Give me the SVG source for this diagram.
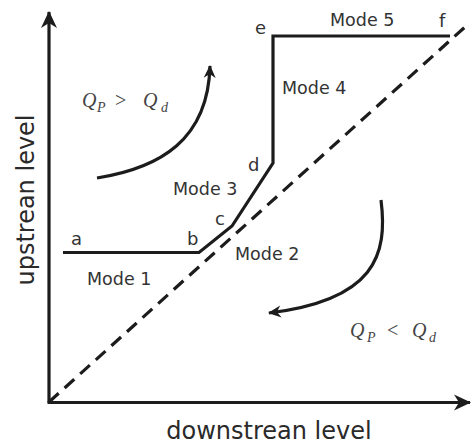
<svg xmlns="http://www.w3.org/2000/svg" width="473" height="444" viewBox="0 0 473 444">
<style>
.ln{fill:none;stroke:#1c1c1c;stroke-width:3.2;stroke-linejoin:miter}
.lbl{font-family:"DejaVu Sans",Verdana,sans-serif;font-size:17.5px;fill:#333}
.pt{font-family:"DejaVu Sans",Verdana,sans-serif;font-size:18px;fill:#333}
.ax{font-family:"DejaVu Sans",Verdana,sans-serif;font-size:24px;fill:#2a2a2a}
.q{font-family:"Liberation Serif","Times New Roman",serif;font-style:italic;fill:#444;font-size:20px}
.qs{font-size:14px}
.op{font-style:normal}
</style>
<defs>
<marker id="ah" viewBox="0 0 14 14" refX="12" refY="7" markerWidth="14" markerHeight="14" markerUnits="userSpaceOnUse" orient="auto">
<path d="M0,1 L13,7 L0,13 L4,7 z" fill="#1c1c1c"/>
</marker>
<marker id="axh" viewBox="0 0 18 18" refX="16" refY="9" markerWidth="18" markerHeight="18" markerUnits="userSpaceOnUse" orient="auto">
<path d="M0,1 L17,9 L0,17 L5,9 z" fill="#1c1c1c"/>
</marker>
</defs>
<rect width="473" height="444" fill="#fff"/>
<g id="axes">
<line class="ln" x1="49" y1="402.5" x2="49" y2="12" marker-end="url(#axh)" stroke-width="3.5"/>
<line class="ln" x1="47.5" y1="402.5" x2="470" y2="402.5" marker-end="url(#axh)" stroke-width="3.5"/>
<text class="ax" x="269" y="439" text-anchor="middle">downstrean level</text>
<text class="ax" transform="translate(34,200) rotate(-90)" text-anchor="middle">upstrean level</text>
</g>
<g id="connectors">
<line class="ln" x1="49" y1="402" x2="465" y2="27" stroke-dasharray="13 8"/>
<path id="mode-curve" class="ln" d="M63,252.5 L199,252.5 L232,226 L273,163 L273,36 L450,36"/>
<path class="ln" d="M97,178 C160,168 208,140 210,66" marker-end="url(#ah)" stroke-width="3"/>
<path class="ln" d="M381,200 C388,255 375,300 269,313" marker-end="url(#ah)" stroke-width="3"/>
</g>
<g id="points">
<text class="pt" x="71" y="245">a</text>
<text class="pt" x="187" y="245">b</text>
<text class="pt" x="215" y="225">c</text>
<text class="pt" x="248" y="171">d</text>
<text class="pt" x="255" y="34">e</text>
<text class="pt" x="439" y="27">f</text>
</g>
<g id="modes">
<text class="lbl" x="87" y="285">Mode 1</text>
<text class="lbl" x="235" y="260">Mode 2</text>
<text class="lbl" x="173" y="195">Mode 3</text>
<text class="lbl" x="282" y="94">Mode 4</text>
<text class="lbl" x="330" y="26">Mode 5</text>
</g>
<g id="cond-up">
<text class="q" x="82" y="107">Q</text>
<text class="q qs" x="97" y="112">P</text>
<text class="q op" x="115" y="107">&gt;</text>
<text class="q" x="143" y="107">Q</text>
<text class="q qs" x="161" y="112">d</text>
</g>
<g id="cond-down">
<text class="q" x="350" y="337">Q</text>
<text class="q qs" x="367" y="342">P</text>
<text class="q op" x="387" y="337">&lt;</text>
<text class="q" x="412" y="337">Q</text>
<text class="q qs" x="429" y="342">d</text>
</g>
</svg>
